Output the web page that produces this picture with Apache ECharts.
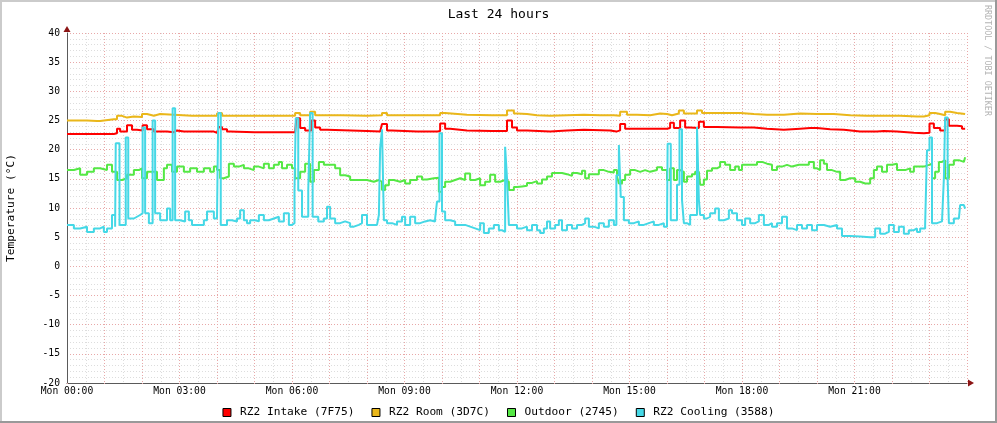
<!DOCTYPE html>
<html><head><meta charset="utf-8">
<script src="https://cdn.jsdelivr.net/npm/echarts@6/dist/echarts.min.js"></script>
<style>html,body{margin:0;padding:0;background:#fff}#c{width:997px;height:423px}</style>
</head><body><div id="c"></div>
<script>
// ---- data (time in minutes since Mon 00:00, value in °C) ----
const seriesNames = ['RZ2 Intake (7F75)', 'RZ2 Room (3D7C)', 'Outdoor (2745)', 'RZ2 Cooling (3588)'];
const xTickLabels = ['Mon 00:00','Mon 03:00','Mon 06:00','Mon 09:00','Mon 12:00','Mon 15:00','Mon 18:00','Mon 21:00'];
const titleText = 'Last 24 hours';
const yAxisTitle = 'Temperature (°C)';

const intakeData = [
 [0,22.7],[64,22.7],[75,22.8],[80,23.6],[85,23.1],[96,24.2],[104,23.4],[112,23.3],[121,24.2],[128,23.5],[139,23.1],[160,23.0],[171,23.3],[176,23.1],[187,23.1],[229,23.1],[235,22.9],
 [240,23.2],[243,23.9],[248,23.5],[256,23.1],[261,23.0],[300,23.0],[340,23.0],[365,23.0],[367,25.4],[373,23.7],[381,23.3],[391,25.0],[397,23.8],[405,23.4],[416,23.2],
 [480,23.1],[501,23.2],[504,24.4],[512,23.3],[520,23.1],[560,23.1],[593,23.2],[597,24.5],[605,23.6],[613,23.3],[640,23.2],[680,23.2],[699,23.2],[704,25.0],[712,23.8],
 [720,23.3],[736,23.1],[773,23.3],[800,23.4],[827,23.3],[869,23.1],[879,23.3],[885,24.4],[893,23.6],[912,23.6],[944,23.6],
 [960,23.7],[965,24.6],[971,23.7],[981,25.0],[989,23.8],[997,23.7],[1011,24.8],[1019,23.9],[1040,23.8],[1077,23.8],[1099,23.6],[1120,23.4],[1147,23.6],[1173,23.7],[1189,23.7],
 [1200,23.5],[1221,23.4],[1243,23.1],[1269,23.1],[1296,23.2],[1307,23.1],[1328,22.9],[1355,22.8],[1371,22.9],[1380,24.5],[1387,23.7],[1397,23.3],[1405,25.2],[1411,24.1],[1424,24.0],[1432,23.6],[1437,23.5]
];
const roomData = [
 [0,25.0],[21,25.0],[32,24.9],[48,24.9],[53,25.2],[75,25.2],[80,25.8],[88,25.5],[96,25.7],[107,25.6],[120,26.1],[128,25.8],[139,26.1],[149,25.8],[200,25.8],
 [240,26.2],[243,26.3],[248,25.8],[300,25.8],[350,25.8],[365,26.3],[373,25.9],[389,26.5],[397,25.9],[440,25.8],
 [480,25.9],[504,26.3],[512,25.9],[560,25.9],[597,26.3],[605,26.0],[640,25.9],[680,25.9],[704,26.7],[715,26.2],
 [720,26.1],[736,25.9],[752,25.8],[773,25.9],[800,26.0],[827,25.9],[853,25.9],[875,25.8],[885,26.5],[896,26.0],[912,25.9],[933,26.2],[949,26.1],
 [960,25.9],[968,26.2],[979,26.7],[987,26.2],[997,26.2],[1008,26.7],[1016,26.3],[1040,26.3],[1067,26.3],[1077,26.1],[1099,26.0],[1120,26.0],[1147,26.2],[1173,26.1],
 [1200,26.1],[1227,25.9],[1253,25.8],[1280,25.8],[1307,25.8],[1333,25.7],[1360,25.7],[1371,25.9],[1380,26.3],[1389,26.1],[1397,25.9],[1405,26.5],[1413,26.3],[1424,26.1],[1437,26.2]
];
const outdoorData = [
 [0,16.5],[11,16.8],[21,15.7],[32,16.2],[43,16.8],[53,16.5],[64,17.4],[72,16.2],[80,14.8],[88,15.1],[96,15.7],[107,16.5],[115,16.8],[120,15.1],[128,16.2],[139,16.2],[144,14.8],[155,16.8],[160,17.4],[168,16.2],[176,17.1],[187,16.2],[197,16.8],[208,16.2],[219,16.8],[229,16.2],[235,17.1],
 [240,16.5],[245,15.1],[251,15.4],[259,17.6],[267,17.1],[275,17.4],[283,16.8],[291,16.5],[299,17.1],[307,16.8],[315,17.6],[323,16.8],[331,17.4],[339,17.9],[344,16.8],[352,17.4],[360,16.8],[365,15.1],[373,16.2],[381,17.6],[389,14.5],[395,16.5],[403,17.9],[411,17.4],[421,17.4],[429,16.8],[437,15.6],[445,15.4],[453,14.8],[464,14.8],[475,14.8],
 [480,14.5],[491,14.8],[499,14.5],[504,13.1],[509,13.9],[515,14.8],[523,14.5],[533,14.8],[541,14.2],[549,14.8],[560,15.4],[568,14.9],[576,15.1],[587,15.2],[595,12.8],[600,13.6],[605,14.5],[613,14.8],[621,15.1],[629,14.8],[637,15.9],[645,14.8],[653,15.1],[661,13.9],[669,14.5],[677,15.7],[685,14.5],[693,14.8],[701,14.5],[707,13.1],[715,13.6],
 [720,13.7],[728,13.8],[736,14.3],[744,14.6],[752,14.2],[760,14.9],[768,15.4],[776,16.0],[784,16.0],[792,15.8],[800,15.5],[808,16.0],[816,15.8],[824,16.4],[829,15.1],[835,15.8],[843,15.8],[851,16.5],[859,16.2],[867,16.1],[875,16.5],[880,15.4],[883,14.2],[888,14.8],[893,15.7],[901,16.5],[909,16.2],[917,16.5],[925,16.2],[933,16.5],[944,17.0],[952,16.5],
 [960,14.8],[965,16.8],[971,14.8],[976,16.5],[981,16.2],[987,14.5],[992,15.4],[1000,15.8],[1005,16.2],[1011,15.9],[1013,14.0],[1019,14.9],[1024,16.4],[1032,16.8],[1040,17.1],[1045,17.9],[1053,17.4],[1061,16.5],[1069,17.1],[1075,16.5],[1080,17.4],[1088,17.4],[1096,17.4],[1104,17.9],[1112,17.6],[1120,17.4],[1128,16.5],[1136,17.1],[1144,17.4],[1152,17.1],[1160,17.4],[1171,17.4],[1179,17.4],[1187,17.9],[1195,16.8],
 [1200,16.5],[1205,18.2],[1211,17.6],[1216,16.5],[1224,16.2],[1232,16.2],[1237,14.8],[1245,15.1],[1253,15.1],[1261,14.5],[1269,14.2],[1277,14.2],[1285,15.1],[1291,16.5],[1296,17.1],[1304,16.2],[1312,17.4],[1320,17.6],[1328,16.5],[1336,16.5],[1341,16.8],[1349,16.2],[1355,17.1],[1363,17.1],[1371,17.4],[1379,17.6],[1384,15.1],[1389,16.2],[1395,17.9],[1400,18.2],[1405,15.1],[1411,17.4],[1419,18.2],[1427,17.9],[1435,18.2],[1437,18.7]
];
const coolingData = [
 [0,7.1],[11,6.5],[21,6.8],[32,5.9],[43,6.5],[53,6.8],[59,5.9],[64,6.5],[72,8.8],[77,6.8],[78,21.1],[84,7.1],[88,7.1],[94,22.1],[98,8.2],[107,8.5],[112,8.8],[117,9.1],[121,23.8],[125,9.1],[131,7.4],[137,25.0],[141,9.1],[149,7.9],[160,9.9],[165,7.9],[169,27.1],[173,7.9],[181,7.7],[189,9.4],[195,7.9],[200,7.1],[208,7.1],[219,7.9],[224,9.4],[235,8.2],
 [240,8.2],[242,26.3],[246,7.1],[256,7.9],[264,7.7],[272,8.2],[277,9.6],[283,7.9],[288,7.4],[293,7.9],[301,7.7],[307,8.8],[315,7.9],[323,8.2],[331,8.5],[339,7.7],[347,9.1],[355,7.1],[360,7.4],[364,13.0],[366,25.4],[370,13.0],[376,8.5],[381,8.5],[386,13.0],[389,26.3],[393,8.5],[402,7.7],[411,8.2],[416,10.2],[421,8.2],[429,7.4],[437,7.7],[445,7.4],[453,6.8],[459,7.1],[467,7.4],[472,8.8],
 [480,7.1],[491,7.1],[496,6.8],[499,8.8],[501,20.2],[504,23.5],[507,7.9],[512,7.4],[520,7.1],[528,7.7],[536,8.5],[541,7.1],[549,8.5],[557,7.4],[565,7.7],[573,7.9],[581,7.7],[589,8.2],[592,11.1],[596,22.8],[600,9.4],[605,7.9],[613,7.7],[621,7.1],[629,7.1],[637,6.8],[645,6.5],[653,6.2],[661,7.4],[667,5.7],[675,6.5],[683,7.1],[691,6.2],[696,5.9],[701,20.5],[704,15.1],[707,7.1],
 [720,6.5],[728,6.8],[736,6.2],[744,7.1],[752,6.2],[757,5.7],[763,6.5],[768,7.7],[773,6.5],[781,7.1],[787,7.9],[792,6.2],[800,7.1],[808,6.5],[816,7.1],[824,7.4],[829,8.2],[835,6.8],[843,6.5],[851,7.4],[859,6.8],[867,7.9],[875,7.1],[879,15.6],[883,20.8],[886,11.9],[891,7.9],[899,7.4],[907,7.7],[915,7.1],[923,7.4],[931,7.7],[939,7.1],[947,7.4],[955,6.8],
 [960,6.8],[961,21.0],[966,7.9],[971,7.9],[976,14.0],[980,23.5],[984,11.4],[987,7.4],[992,7.1],[997,8.8],[1003,8.8],[1008,23.9],[1011,11.4],[1013,8.8],[1019,8.2],[1024,8.5],[1029,9.1],[1037,9.9],[1043,7.9],[1051,8.2],[1059,9.6],[1064,9.1],[1072,7.9],[1080,7.1],[1085,8.2],[1093,7.4],[1101,7.7],[1107,8.8],[1115,7.1],[1123,7.4],[1128,6.8],[1136,7.4],[1144,8.5],[1152,6.5],[1160,6.2],[1168,7.1],[1176,6.5],[1184,7.1],[1192,6.2],
 [1200,7.1],[1211,6.8],[1221,7.1],[1232,6.5],[1240,5.2],[1253,5.1],[1269,5.0],[1285,5.0],[1293,6.5],[1301,5.6],[1309,5.9],[1315,7.1],[1323,5.9],[1331,6.8],[1339,5.6],[1347,6.2],[1355,6.5],[1360,5.9],[1365,6.5],[1373,7.1],[1376,19.9],[1380,22.1],[1384,7.4],[1392,7.7],[1400,7.9],[1403,15.1],[1405,25.5],[1409,15.1],[1411,7.4],[1419,8.2],[1427,8.5],[1429,10.5],[1435,10.2],[1437,9.9]
];
const seriesColors = ['#ff0000', '#eab71a', '#55e845', '#45d8e6'];

// ---- layout ----
const W = 997, H = 423;
const G = {left: 67, right: 30, top: 33, bottom: 40};
const FONT = 'DejaVu Sans Mono';
const minorGrid = {color: '#dddddd', type: [1, 2], width: 1};
const majorGrid = {color: '#e8a8a8', type: [1, 2], width: 1};
const axisCol = '#5a5a5a';
const arrowCol = '#8b1414';

const chart = echarts.init(document.getElementById('c'), null, {renderer: 'canvas'});
const px = G.left, py = H - G.bottom, pr = W - G.right, pt = G.top;

chart.setOption({
  animation: false,
  backgroundColor: '#ffffff',
  title: {text: titleText, left: 'center', top: 3,
    textStyle: {fontFamily: FONT, fontSize: 13, fontWeight: 'normal', color: '#000'}},
  legend: {
    data: seriesNames, top: 402, left: 'center', icon: 'rect',
    itemWidth: 8, itemHeight: 8, itemGap: 17,
    itemStyle: {borderColor: '#000', borderWidth: 1},
    textStyle: {fontFamily: FONT, fontSize: 11.2, color: '#000', padding: [0, 0, 0, 4]}
  },
  grid: {left: G.left, right: G.right, top: G.top, bottom: G.bottom, containLabel: false, outerBoundsMode: 'none'},
  xAxis: {
    type: 'value', min: 0, max: 1440, interval: 60,
    axisLine: {show: true, onZero: false, lineStyle: {color: axisCol, width: 1}},
    axisTick: {show: true, length: 3, lineStyle: majorGrid},
    axisLabel: {fontFamily: FONT, fontSize: 9.7, color: '#000', margin: 3,
      formatter: v => (v % 180 === 0 && v < 1440) ? xTickLabels[v / 180] : ''},
    splitLine: {show: true, lineStyle: majorGrid},
    minorTick: {show: false, splitNumber: 2},
    minorSplitLine: {show: true, lineStyle: minorGrid}
  },
  yAxis: {
    type: 'value', min: -20, max: 40, interval: 5,
    name: yAxisTitle, nameLocation: 'middle', nameGap: 50,
    nameTextStyle: {fontFamily: FONT, fontSize: 11.2, color: '#000'},
    axisLine: {show: true, onZero: false, lineStyle: {color: axisCol, width: 1}},
    axisTick: {show: false},
    axisLabel: {fontFamily: FONT, fontSize: 9.7, color: '#000', margin: 7},
    splitLine: {show: true, lineStyle: majorGrid},
    minorTick: {show: false, splitNumber: 5},
    minorSplitLine: {show: true, lineStyle: minorGrid}
  },
  series: [intakeData, roomData, outdoorData, coolingData].map((d, i) => ({
    name: seriesNames[i], type: 'line', step: 'end', data: d,
    showSymbol: false, symbol: 'none', color: seriesColors[i],
    lineStyle: {width: 2, color: seriesColors[i]},
    itemStyle: {color: seriesColors[i]}
  })),
  graphic: [
    {type: 'rect', shape: {x: 0, y: 0, width: W, height: 2}, style: {fill: '#cbcbcb'}, silent: true},
    {type: 'rect', shape: {x: 0, y: 0, width: 2, height: H}, style: {fill: '#cbcbcb'}, silent: true},
    {type: 'rect', shape: {x: W - 2, y: 0, width: 2, height: H}, style: {fill: '#999999'}, silent: true},
    {type: 'rect', shape: {x: 0, y: H - 2, width: W, height: 2}, style: {fill: '#999999'}, silent: true},
    {type: 'polygon', shape: {points: [[px - 3.5, pt - 1], [px + 3.5, pt - 1], [px, pt - 7]]}, style: {fill: arrowCol}, silent: true},
    {type: 'polygon', shape: {points: [[pr + 1, py - 3.5], [pr + 1, py + 3.5], [pr + 7, py]]}, style: {fill: arrowCol}, silent: true},
    {type: 'text', x: W - 10, y: 5, rotation: -Math.PI / 2,
     style: {text: 'RRDTOOL / TOBI OETIKER', fontFamily: FONT, fontSize: 8.4, fill: '#b4b4b4', align: 'left', verticalAlign: 'middle'}, silent: true}
  ]
});
</script></body></html>
